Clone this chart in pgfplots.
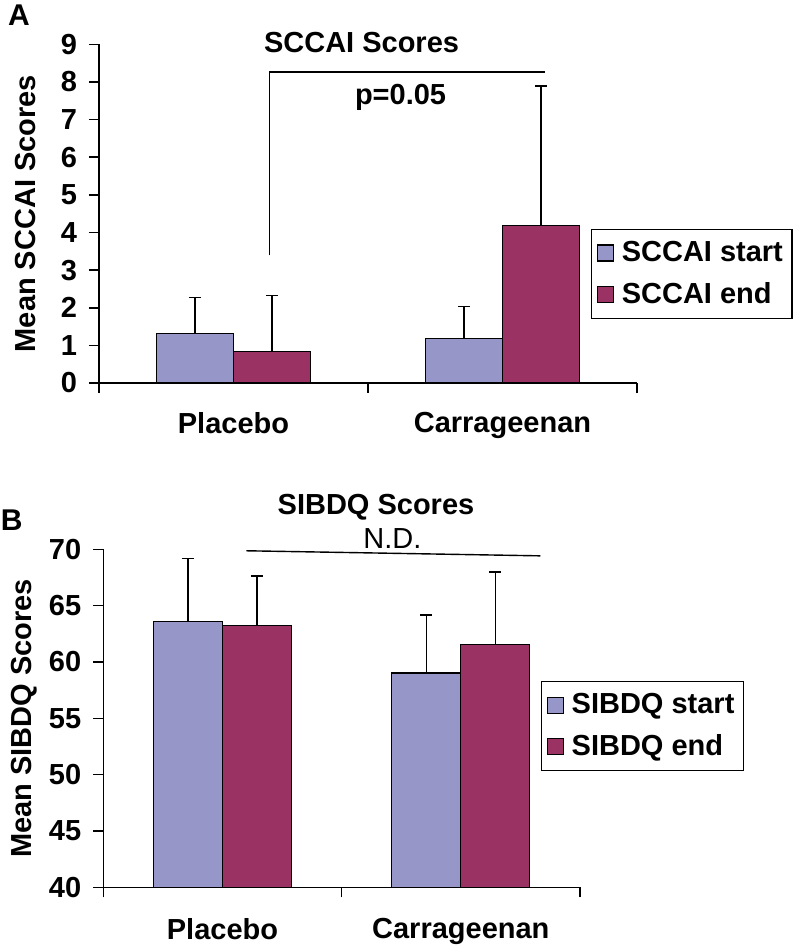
\documentclass[border=0pt]{standalone}
\usepackage{fontspec}
\setmainfont{Liberation Sans}
\usepackage{pgfplots}
\pgfplotsset{compat=1.18}
\definecolor{startc}{RGB}{150,150,200}
\definecolor{endc}{RGB}{155,50,100}
\pgfplotsset{
  sqlegend/.style={legend image code/.code={\draw[##1,draw=black,line width=0.6pt] (0pt,-4pt) rectangle (8pt,4pt);}},
  mybase/.style={
    scale only axis,
    axis x line=bottom, axis y line=left,
    axis line style={-, line width=0.8pt},
    xmin=-0.5, xmax=1.5,
    xtick={-0.5,0.5,1.5}, xticklabels={},
    extra x ticks={0,1}, extra x tick labels={Placebo,Carrageenan},
    tick align=outside,
    tick style={black, line width=0.8pt},
    major tick length=5pt,
    /pgf/number format/assume math mode=true,
    ticklabel style={font=\fontsize{14.5}{17}\selectfont\bfseries},
    yticklabel style={xshift=-2.5pt},
    ybar=0pt,
    legend cell align=left,
    clip=false,
    every axis plot/.append style={sqlegend},
  },
  errs/.style={error bars/.cd, y dir=plus, y explicit,
    error bar style={line width=0.7pt, black},
    error mark options={rotate=90, line width=0.7pt, mark size=3pt, black}},
}
\begin{document}
\begin{tikzpicture}[font=\fontsize{14.5}{17}\selectfont\bfseries]
\path[use as bounding box] (0,0) rectangle (398pt,-473.5pt);
\node[anchor=base, font=\fontsize{15}{17}\selectfont\bfseries] at (9.5pt,-13pt) {A};
\node[anchor=base, font=\fontsize{15}{17}\selectfont\bfseries] at (5.8pt,-265pt) {B};
% Panel A
\begin{axis}[mybase,
  at={(49.5pt,-191.5pt)}, anchor=south west,
  width=269pt, height=169.35pt,
  ymin=0, ymax=9, ytick={0,1,...,9},
  bar width=38.5pt,
  extra x tick style={major tick length=0pt, xticklabel style={yshift=-11pt}},
  ylabel={Mean SCCAI Scores},
  ylabel style={at={(axis description cs:-0.136,0.5)}, anchor=center, rotate=0},
  legend style={at={(0.9145,0.4556)}, anchor=north west, draw=black, line width=0.6pt,
    font=\fontsize{14.5}{17}\selectfont\bfseries, row sep=5pt, inner xsep=2.5pt, inner ysep=4pt,
    /tikz/every odd column/.append style={column sep=2pt}},
]
\addplot[fill=startc, draw=black, line width=0.6pt, errs] coordinates {(0,1.31) +- (0,0.97) (1,1.19) +- (0,0.85)};
\addplot[fill=endc, draw=black, line width=0.6pt, errs] coordinates {(0,0.84) +- (0,1.48) (1,4.18) +- (0,3.71)};
\legend{SCCAI start, SCCAI end}
\draw[line width=0.7pt] (axis cs:0.134,3.39) -- (axis cs:0.134,8.26) -- (axis cs:1.159,8.26);
\node[anchor=base] at (axis cs:0.476,8.78) {SCCAI Scores};
\node[anchor=base] at (axis cs:0.621,7.39) {p=0.05};
\end{axis}
% Panel B
\begin{axis}[mybase,
  at={(51.65pt,-443.65pt)}, anchor=south west,
  width=238.35pt, height=169pt,
  ymin=40, ymax=70, ytick={40,45,...,70},
  bar width=34.5pt,
  extra x tick style={major tick length=0pt, xticklabel style={yshift=-12pt}},
  ylabel={Mean SIBDQ Scores},
  ylabel style={at={(axis description cs:-0.165,0.5)}, anchor=center, rotate=0},
  legend style={at={(0.918,0.6104)}, anchor=north west, draw=black, line width=0.6pt,
    font=\fontsize{14.5}{17}\selectfont\bfseries, row sep=5pt, inner xsep=2.5pt, inner ysep=4pt,
    /tikz/every odd column/.append style={column sep=2pt}},
]
\addplot[fill=startc, draw=black, line width=0.6pt, errs] coordinates {(0,63.62) +- (0,5.56) (1,59.03) +- (0,5.15)};
\addplot[fill=endc, draw=black, line width=0.6pt, errs] coordinates {(0,63.23) +- (0,4.39) (1,61.58) +- (0,6.42)};
\legend{SIBDQ start, SIBDQ end}
\draw[line width=0.7pt] (axis cs:0.10,69.87) -- (axis cs:1.334,69.42);
\node[anchor=base] at (axis cs:0.644,73.06) {SIBDQ Scores};
\node[anchor=base, font=\fontsize{14.5}{17}\selectfont\mdseries] at (axis cs:0.713,70.1) {N.D.};
\end{axis}
\end{tikzpicture}
\end{document}
